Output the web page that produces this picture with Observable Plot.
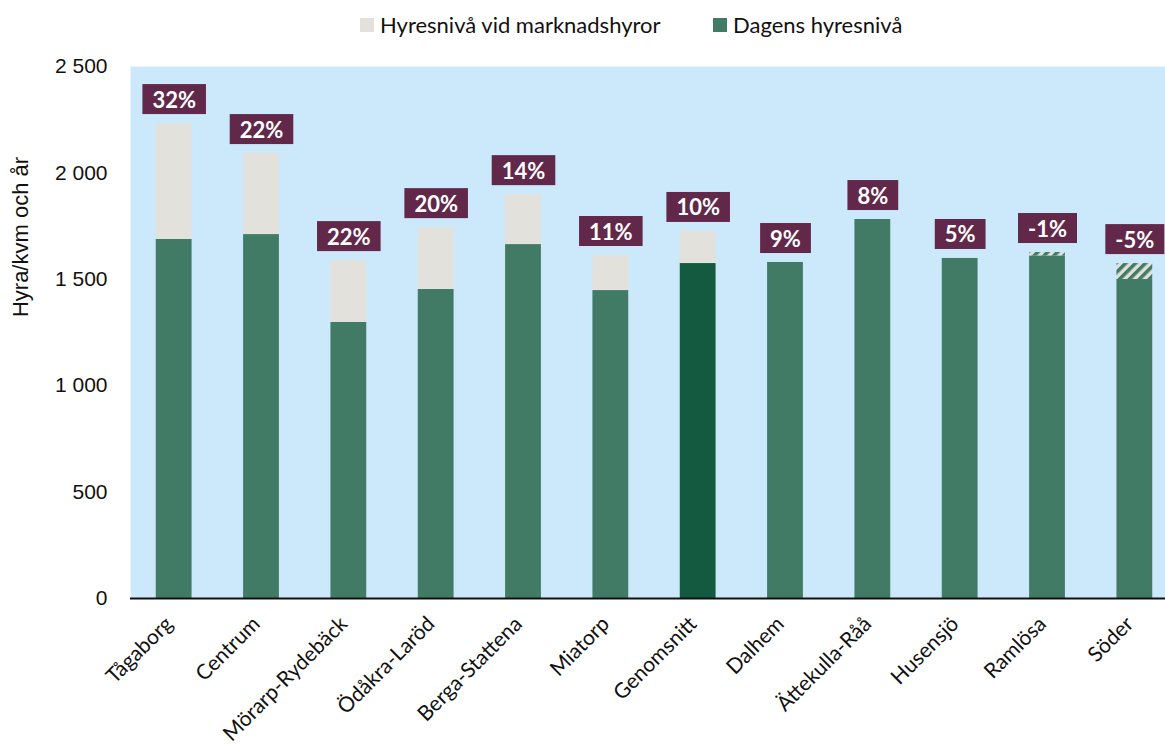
<!DOCTYPE html>
<html>
<head>
<meta charset="utf-8">
<script src="https://cdn.jsdelivr.net/npm/d3@7"></script>
<script src="https://cdn.jsdelivr.net/npm/@observablehq/plot@0.6"></script>
<style>
  body { margin: 0; background: #ffffff; font-family: Lato, sans-serif; }
  #legend { position: relative; height: 50px; font-family: Lato, sans-serif; font-size: 22px; color: #111; }
  #legend .item { position: absolute; top: 11px; display: flex; align-items: center; white-space: nowrap; }
  #legend .sw { width: 14px; height: 14px; margin-right: 6px; }
</style>
</head>
<body>
<div id="legend"></div>
<div id="chart"></div>
<script>
// ---- data ----
const categories = ["Tågaborg","Centrum","Mörarp-Rydebäck","Ödåkra-Laröd","Berga-Stattena","Miatorp","Genomsnitt","Dalhem","Ättekulla-Råå","Husensjö","Ramlösa","Söder"];
const currentRent = [1687, 1710, 1297, 1452, 1663, 1447, 1574, 1579, 1781, 1598, 1626, 1574];
const marketRent  = [2232, 2091, 1588, 1743, 1898, 1612, 1725, null, null, null, 1610, 1499];
const pctDiff     = [32, 22, 22, 20, 14, 11, 10, 9, 8, 5, -1, -5];
const yTicks = [0, 500, 1000, 1500, 2000, 2500];
const seriesNames = ["Hyresnivå vid marknadshyror", "Dagens hyresnivå"];
const yTitle = "Hyra/kvm och år";
const averageName = "Genomsnitt";

const colors = {
  market: "#e3e1db",
  current: "#417b66",
  average: "#135a41",
  bg: "#cce9fb",
  label: "#62284a"
};

const rows = categories.map((c, i) => ({
  c, cur: currentRent[i], mkt: marketRent[i], pct: pctDiff[i],
  low: marketRent[i] == null ? currentRent[i] : Math.min(currentRent[i], marketRent[i]),
  top: marketRent[i] == null ? currentRent[i] : Math.max(currentRent[i], marketRent[i])
}));

// ---- legend ----
const legend = document.getElementById("legend");
[[seriesNames[0], colors.market, 360], [seriesNames[1], colors.current, 713]].forEach(([name, col, left]) => {
  const it = document.createElement("div");
  it.className = "item";
  it.style.left = left + "px";
  it.innerHTML = `<span class="sw" style="background:${col}"></span><span>${name}</span>`;
  legend.appendChild(it);
});

const fmt = d3.formatLocale({thousands: " ", grouping: [3], decimal: ",", currency: ["", ""]}).format(",");

const plot = Plot.plot({
  width: 1165,
  height: 696,
  marginLeft: 130,
  marginRight: -13,
  marginTop: 16,
  marginBottom: 148,
  style: {background: "transparent", fontFamily: "Lato, sans-serif", color: "#111"},
  x: {domain: categories, paddingInner: 0.59, paddingOuter: 0.295, round: false, label: null},
  y: {domain: [0, 2500], label: null},
  marks: [
    Plot.frame({fill: colors.bg, stroke: "none"}),
    Plot.barY(rows.filter(d => d.mkt != null && d.mkt > d.cur), {x: "c", y1: "cur", y2: "mkt", fill: colors.market}),
    Plot.barY(rows, {x: "c", y1: 0, y2: "low", fill: d => d.c === averageName ? colors.average : colors.current}),
    Plot.barY(rows.filter(d => d.mkt != null && d.mkt < d.cur), {x: "c", y1: "mkt", y2: "cur", fill: "url(#hatch)"}),
    Plot.ruleY([0], {stroke: "#111", strokeWidth: 2}),
    Plot.axisY({ticks: yTicks, tickSize: 0, tickPadding: 23, tickFormat: fmt, fontSize: 21, fontFamily: "Liberation Sans, Arial, sans-serif", label: null}),
    Plot.axisX({tickSize: 0, tickRotate: -45, tickPadding: 22, dx: -5, fontSize: 21, label: null}),
    Plot.text(rows, {x: "c", y: "top", dy: -23, text: d => `${d.pct}%`, fill: "white", fontWeight: "bold", fontSize: 22, className: "pct-label"})
  ]
});

document.getElementById("chart").appendChild(plot);

const svg = d3.select(plot);
// hatch pattern
const defs = svg.insert("defs", ":first-child");
const pat = defs.append("pattern").attr("id", "hatch").attr("patternUnits", "userSpaceOnUse")
  .attr("width", 7).attr("height", 7).attr("patternTransform", "rotate(45)");
pat.append("rect").attr("width", 7).attr("height", 7).attr("fill", colors.market);
pat.append("rect").attr("width", 3.5).attr("height", 7).attr("fill", colors.current);

// label boxes
svg.selectAll("g.pct-label text").each(function () {
  const b = this.getBBox();
  const cx = b.x + b.width / 2, cy = b.y + b.height / 2;
  const w = b.width + 20, h = 30;
  d3.select(this.parentNode).insert("rect", () => this)
    .attr("x", cx - w / 2).attr("y", cy - h / 2).attr("width", w).attr("height", h)
    .attr("fill", colors.label)
    .attr("transform", this.getAttribute("transform"));
});

// y axis title
svg.append("text")
  .attr("transform", "translate(22,187) rotate(-90)")
  .attr("text-anchor", "middle")
  .attr("dominant-baseline", "middle")
  .attr("font-family", "Liberation Sans, Arial, sans-serif")
  .attr("font-size", 22)
  .attr("fill", "#111")
  .text(yTitle);
</script>
</body>
</html>
